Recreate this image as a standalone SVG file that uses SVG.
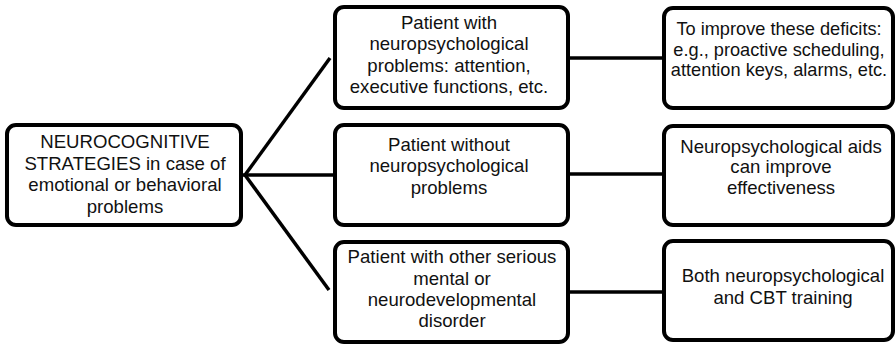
<svg xmlns="http://www.w3.org/2000/svg" width="896" height="344" viewBox="0 0 896 344">
<style>
.box{fill:#fff;stroke:#000;stroke-width:4}
.t{font-family:"Liberation Sans",Arial,sans-serif;font-size:18.6px;fill:#111;text-anchor:middle}
.s{font-size:18.2px}
.c{stroke:#000;stroke-width:3.5;fill:none}
</style>
<rect width="896" height="344" fill="#fff"/>
<g id="connectors">
<line class="c" x1="245" y1="175" x2="330" y2="58"/>
<line class="c" x1="241" y1="175" x2="334" y2="175"/>
<line class="c" x1="245" y1="175" x2="329" y2="290"/>
<line class="c" x1="568" y1="58" x2="664" y2="58"/>
<line class="c" x1="568" y1="174" x2="664" y2="174"/>
<line class="c" x1="568" y1="292" x2="664" y2="292"/>
</g>
<g id="root">
<rect class="box" x="7" y="125" width="234" height="100" rx="9"/>
<text class="t" x="125" y="148">NEUROCOGNITIVE</text>
<text class="t" x="125" y="169.5">STRATEGIES in case of</text>
<text class="t" x="125" y="191">emotional or behavioral</text>
<text class="t" x="125" y="212.5">problems</text>
</g>
<g id="mid1">
<rect class="box" x="335" y="7" width="233" height="101" rx="9"/>
<text class="t" x="449" y="28.5">Patient with</text>
<text class="t" x="449" y="50">neuropsychological</text>
<text class="t" x="449" y="71.5">problems: attention,</text>
<text class="t" x="449" y="93">executive functions, etc.</text>
</g>
<g id="mid2">
<rect class="box" x="335" y="125" width="233" height="100" rx="9"/>
<text class="t" x="449" y="150.5">Patient without</text>
<text class="t" x="449" y="172">neuropsychological</text>
<text class="t" x="449" y="193.5">problems</text>
</g>
<g id="mid3">
<rect class="box" x="335" y="242" width="233" height="100" rx="9"/>
<text class="t" x="452" y="263">Patient with other serious</text>
<text class="t" x="452" y="284.5">mental or</text>
<text class="t" x="452" y="306">neurodevelopmental</text>
<text class="t" x="452" y="327">disorder</text>
</g>
<g id="right1">
<rect class="box" x="664" y="8" width="229" height="100" rx="9"/>
<text class="t s" x="779" y="35">To improve these deficits:</text>
<text class="t s" x="779" y="55.5">e.g., proactive scheduling,</text>
<text class="t s" x="779" y="76">attention keys, alarms, etc.</text>
</g>
<g id="right2">
<rect class="box" x="664" y="126" width="229" height="99" rx="9"/>
<text class="t" x="781" y="152.5">Neuropsychological aids</text>
<text class="t" x="781" y="173">can improve</text>
<text class="t" x="781" y="193.5">effectiveness</text>
</g>
<g id="right3">
<rect class="box" x="664" y="241" width="229" height="99" rx="9"/>
<text class="t" x="783" y="282">Both neuropsychological</text>
<text class="t" x="783" y="303.5">and CBT training</text>
</g>
</svg>
